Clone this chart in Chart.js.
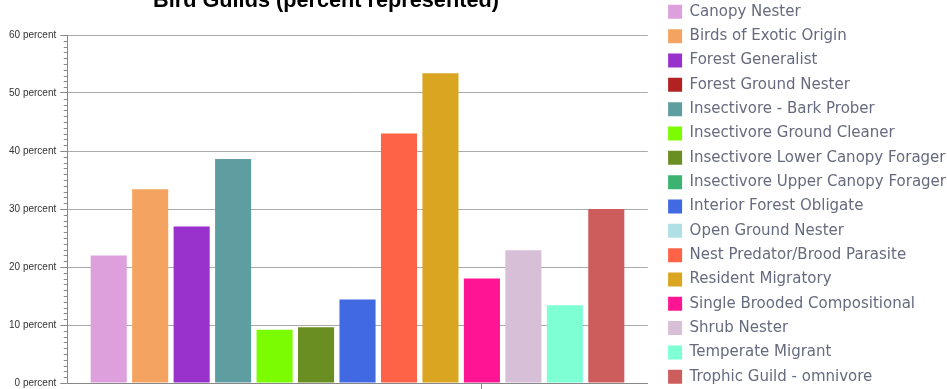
<!DOCTYPE html>
<html><head><meta charset="utf-8">
<script src="https://cdn.jsdelivr.net/npm/chart.js@4.4.1/dist/chart.umd.min.js"></script>
<style>
html,body{margin:0;padding:0;width:947px;height:389px;overflow:hidden;background:#fff;position:relative}
#title{position:absolute;left:0;top:-11.5px;width:652px;text-align:center;font:bold 21.7px 'Liberation Sans',Arial,sans-serif;line-height:22px;color:#000;z-index:2;white-space:nowrap}
#c{position:absolute;left:0;top:-5px}
</style></head><body>
<div id="title">Bird Guilds (percent represented)</div>
<canvas id="c" width="956" height="400"></canvas>
<script>
// ---- data ----
const guilds = [
  'Canopy Nester',
  'Birds of Exotic Origin',
  'Forest Generalist',
  'Forest Ground Nester',
  'Insectivore - Bark Prober',
  'Insectivore Ground Cleaner',
  'Insectivore Lower Canopy Forager',
  'Insectivore Upper Canopy Forager',
  'Interior Forest Obligate',
  'Open Ground Nester',
  'Nest Predator/Brood Parasite',
  'Resident Migratory',
  'Single Brooded Compositional',
  'Shrub Nester',
  'Temperate Migrant',
  'Trophic Guild - omnivore'
];
const percents = [22, 33.4, 27, null, 38.6, 9.2, 9.6, null, 14.4, null, 43, 53.4, 18, 22.9, 13.4, 30];
const colors = [
  '#DDA0DD', '#F4A460', '#9932CC', '#B22222', '#5F9EA0', '#7CFC00', '#6B8E23', '#3CB371',
  '#4169E1', '#B0E0E6', '#FF6347', '#DAA520', '#FF1493', '#D8BFD8', '#7FFFD4', '#CD5C5C'
];
const yTickSuffix = ' percent';
const yMin = 0, yMax = 60, yStep = 10, yMinorStep = 1;

// one unlabeled category slot per drawn bar, plus an empty slot at each end
const barCount = percents.filter(v => v !== null).length;
const categorySlots = Array.from({length: barCount + 2}, () => '');

let slot = 0;
const datasets = guilds.map((name, i) => {
  const data = categorySlots.map(() => null);
  if (percents[i] !== null) { slot++; data[slot] = percents[i]; }
  return {
    label: name, data,
    backgroundColor: colors[i], borderColor: colors[i], borderWidth: 0,
    grouped: false, barPercentage: 0.87, categoryPercentage: 1
  };
});

const minorTicks = {
  id: 'minorTicks',
  afterDraw(chart) {
    const y = chart.scales.y, ctx = chart.ctx, x0 = y.right;
    ctx.save();
    ctx.strokeStyle = '#888';
    ctx.lineWidth = 1;
    ctx.beginPath();
    for (let v = yMin; v <= yMax; v += yMinorStep) {
      if (v % yStep === 0) continue;
      const py = Math.round(y.getPixelForValue(v)) + 0.5;
      ctx.moveTo(x0 - 3.5, py);
      ctx.lineTo(x0, py);
    }
    ctx.stroke();
    ctx.restore();
  }
};

new Chart(document.getElementById('c'), {
  type: 'bar',
  data: { labels: categorySlots, datasets },
  plugins: [minorTicks],
  options: {
    responsive: false,
    animation: false,
    devicePixelRatio: 1,
    layout: { padding: { left: 5, right: 0, top: 0, bottom: 0 } },
    plugins: {
      legend: {
        position: 'right', align: 'start', maxWidth: 400,
        labels: {
          boxWidth: 14, boxHeight: 14, padding: 9.33, color: '#666a7e',
          font: { family: 'DejaVu Sans', size: 15 }
        }
      },
      title: { display: true, text: '', fullSize: false, font: { size: 10, lineHeight: 1 }, padding: { top: 0, bottom: 30 } },
      tooltip: { enabled: false }
    },
    scales: {
      x: {
        type: 'category', offset: false,
        ticks: { display: false },
        grid: {
          offset: false, drawOnChartArea: false, tickLength: 7,
          color: c => c.index === 10 ? '#888' : 'rgba(0,0,0,0)'
        },
        border: { color: '#888' },
        afterFit(s) { s.height = 12; }
      },
      y: {
        min: yMin, max: yMax,
        ticks: {
          stepSize: yStep, padding: 4, color: '#333',
          font: { family: 'Liberation Sans', size: 10 },
          callback: v => v + yTickSuffix
        },
        grid: { color: '#aaa', tickLength: 7, tickColor: '#888' },
        border: { color: '#888' }
      },
      r: {
        type: 'linear', position: 'right', display: true,
        grid: { display: false }, ticks: { display: false }, border: { display: false },
        afterFit(s) { s.width = 11; }
      }
    }
  }
});
</script>
</body></html>
